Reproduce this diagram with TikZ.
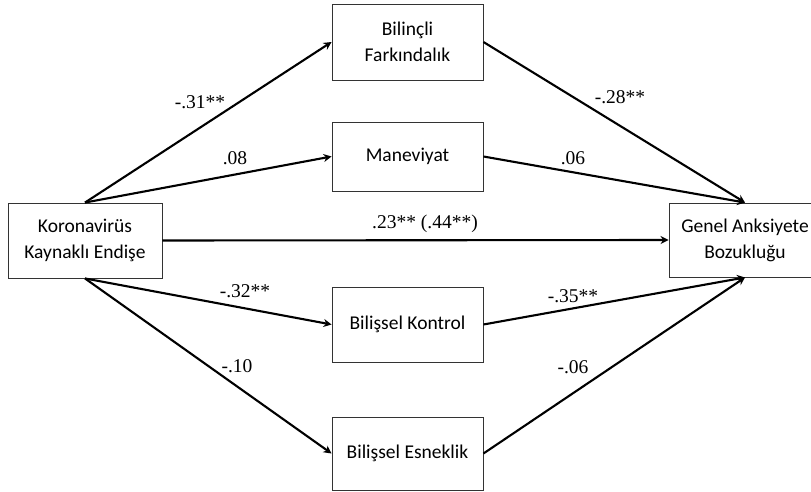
\documentclass[tikz,border=0pt]{standalone}
\usepackage{fontspec}
\setmainfont{Liberation Serif}
\newfontfamily\boxfont{Carlito}
\usetikzlibrary{arrows.meta}
\begin{document}
\begin{tikzpicture}[x=1pt,y=-1pt,
  box/.style={draw=black!80, line width=0.9pt, align=center, inner sep=0pt,
    font=\boxfont\fontsize{19.5}{26}\selectfont},
  path/.style={line width=2.1pt, -{Stealth[length=8pt,width=8pt]}},
  lab/.style={font=\fontsize{19.5}{22}\selectfont, inner sep=0pt}]
\useasboundingbox (0,0) rectangle (811,492);
\node[box, minimum width=154pt, minimum height=75pt] (kor) at (85,240.5) {Koronavirüs\\Kaynaklı Endişe};
\node[box, minimum width=152pt, minimum height=74pt] (gen) at (745,240) {Genel Anksiyete\\Bozukluğu};
\node[box, minimum width=151pt, minimum height=76pt] (bil) at (407.5,42) {Bilinçli\\Farkındalık};
\node[box, minimum width=151pt, minimum height=69pt] (man) at (407.5,156.5) {Maneviyat};
\node[box, minimum width=151pt, minimum height=75pt] (kon) at (407.5,324.5) {Bilişsel Kontrol};
\node[box, minimum width=151pt, minimum height=73pt] (esn) at (407.5,453.5) {Bilişsel Esneklik};
\draw[path] (kor.north) -- (bil.west);
\draw[path] (kor.north) -- (man.west);
\draw[path] (kor.east) -- (gen.west);
\draw[path] (kor.south) -- (kon.west);
\draw[path] (kor.south) -- (esn.west);
\draw[path] (bil.east) -- (gen.north);
\draw[path] (man.east) -- (gen.north);
\draw[path] (kon.east) -- (gen.south);
\draw[path] (esn.east) -- (gen.south);
\node[lab] (l1) at (200,102) {-.31**};
\node[lab] (l2) at (235,158) {.08};
\node[lab] (l3) at (620,97) {-.28**};
\node[lab] (l4) at (573,158) {.06};
\node[lab] (l5) at (425,224) {.23** (.44**)};
\node[lab] (l6) at (245,291) {-.32**};
\node[lab] (l7) at (237,366) {-.10};
\node[lab] (l8) at (573,296) {-.35**};
\node[lab] (l9) at (573,367) {-.06};
\end{tikzpicture}
\end{document}
